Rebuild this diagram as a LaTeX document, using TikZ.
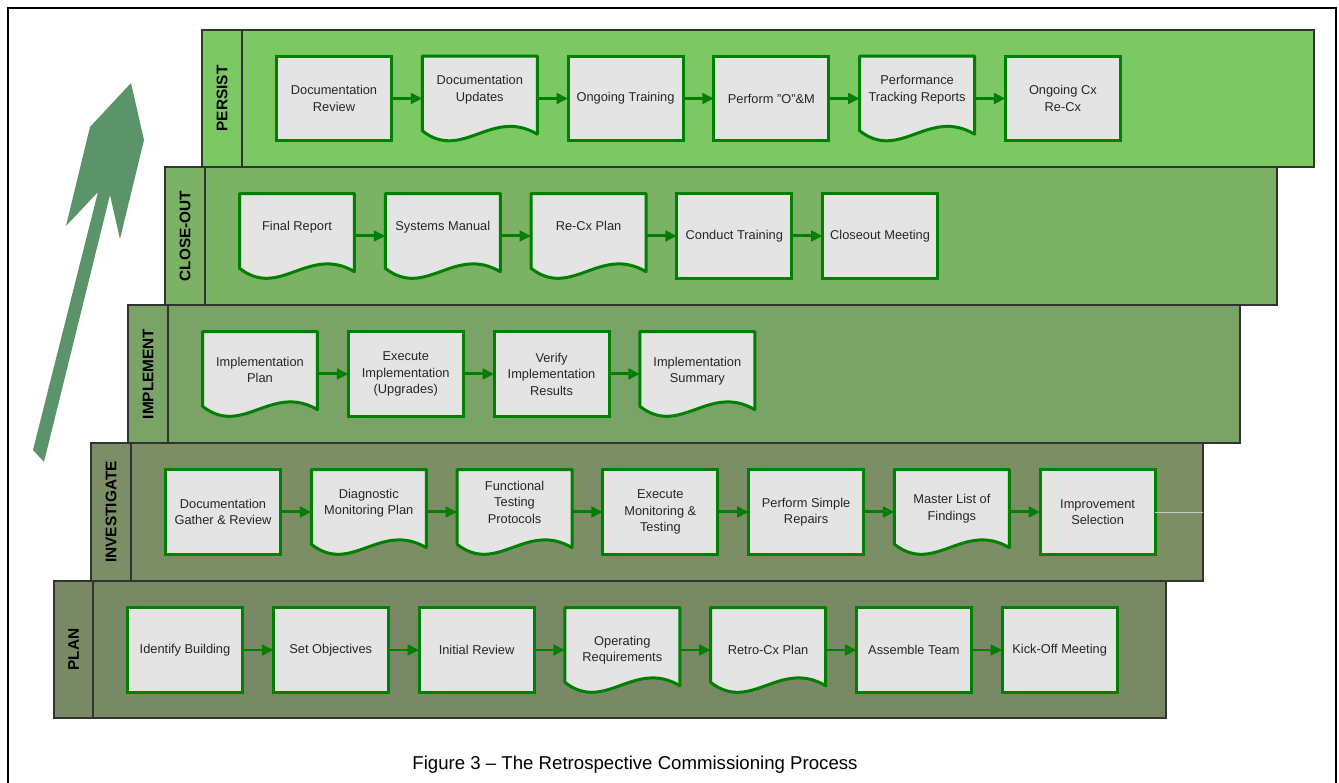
\documentclass[tikz,border=0pt]{standalone}
\usepackage{fontspec}
\setmainfont{Liberation Sans}
\usetikzlibrary{positioning,arrows.meta}

\definecolor{persistfill}{HTML}{7BC865}
\definecolor{closefill}{HTML}{7BB265}
\definecolor{implfill}{HTML}{7AA467}
\definecolor{investfill}{HTML}{7B8E66}
\definecolor{planfill}{HTML}{7A8965}
\definecolor{taskgreen}{HTML}{008000}
\definecolor{taskgray}{HTML}{E4E4E4}
\definecolor{bigarrow}{HTML}{5C946A}

\pgfdeclarelayer{background}
\pgfdeclarelayer{docs}
\pgfsetlayers{background,docs,main}

\newcommand{\docshape}[1]{%
  \draw[taskgreen,fill=taskgray,line width=0.06cm,line join=round] (#1.north west) -- (#1.north east)
    -- ([yshift=0.136cm]#1.south east)
    .. controls ([xshift=-0.92cm,yshift=0.68cm]#1.south east) and ([xshift=0.805cm,yshift=-0.425cm]#1.south west)
    .. ([yshift=0.204cm]#1.south west) -- cycle;}

\begin{document}
\begin{tikzpicture}[x=0.02cm,y=-0.02cm,node distance=0.616cm,
    stage/.style={draw=black!80,line width=0.6pt},
    stagename/.style={rotate=90,font=\bfseries\fontsize{8.75}{10}\selectfont},
    task/.style={draw=taskgreen,fill=taskgray,line width=0.06cm,outer sep=0pt,inner sep=1pt,
      minimum width=2.3cm,minimum height=1.7cm,align=center,text=black!85,
      font=\fontsize{7.3}{9.4}\selectfont},
    doc/.style={task,draw=none,fill=none},
    raised/.style={text depth=#1},
    raised/.default=11.5pt,
    flow/.style={taskgreen,line width=0.06cm,-{Triangle[length=6.5pt,width=6pt]}}]
  \useasboundingbox (0,0) rectangle (1339,783);
  \draw[line width=0.04cm] (8,8) rectangle (1336,800);

  \begin{pgfonlayer}{background}
    \draw[stage,fill=planfill] (54,581) rectangle (1166,718);
    \draw[stage] (93,581) -- (93,718);
    \draw[stage,fill=investfill] (91,443) rectangle (1203,581);
    \draw[stage] (131,443) -- (131,581);
    \draw[stage,fill=implfill] (128,305) rectangle (1240,443);
    \draw[stage] (168,305) -- (168,443);
    \draw[stage,fill=closefill] (165,167) rectangle (1277,305);
    \draw[stage] (205,167) -- (205,305);
    \draw[stage,fill=persistfill] (202,30) rectangle (1314,167);
    \draw[stage] (242,30) -- (242,167);
  \end{pgfonlayer}

  \fill[bigarrow] (131,83) -- (144,140) -- (120,239) -- (110,195) -- (44,462) -- (33,450)
    -- (98,192) -- (66,226) -- (90,127) -- cycle;

  \node[stagename] (plan) at (73.5,649.5) {PLAN};
  \node[stagename] (investigate) at (111,512) {INVESTIGATE};
  \node[stagename] (implement) at (148,374) {IMPLEMENT};
  \node[stagename] (closeout) at (185,236) {CLOSE-OUT};
  \node[stagename] (persist) at (222,98.5) {PERSIST};

  % plan
  \node[task] (ident) at (185,650) {Identify Building};
  \node[task,right=of ident] (objectives) {Set Objectives};
  \node[task,right=of objectives] (initrev) {Initial Review};
  \node[doc,right=of initrev] (opreq) {Operating\\Requirements};
  \node[doc,right=of opreq] (retroplan) {Retro-Cx Plan};
  \node[task,right=of retroplan] (team) {Assemble Team};
  \node[task,right=of team] (kickoff) {Kick-Off Meeting};

  % investigate
  \node[task] (gather) at (223,512) {Documentation\\Gather \& Review};
  \node[doc,raised,right=of gather] (diagplan) {Diagnostic\\Monitoring Plan};
  \node[doc,raised=11pt,right=of diagplan] (functest) {Functional\\Testing\\Protocols};
  \node[task,right=of functest] (execmon) {Execute\\Monitoring \&\\Testing};
  \node[task,right=of execmon] (repairs) {Perform Simple\\Repairs};
  \node[doc,raised=5.5pt,right=of repairs] (findings) {Master List of\\Findings};
  \node[task,right=of findings] (improve) {Improvement\\Selection};

  % implement
  \node[doc,raised=4.5pt] (implplan) at (260,374) {Implementation\\Plan};
  \node[task,right=of implplan] (execimpl) {Execute\\Implementation\\(Upgrades)};
  \node[task,right=of execimpl] (verify) {Verify\\Implementation\\Results};
  \node[doc,raised=4.5pt,right=of verify] (implsum) {Implementation\\Summary};

  % close-out
  \node[doc,raised] (finalrep) at (297,236) {Final Report};
  \node[doc,raised,right=of finalrep] (sysman) {Systems Manual};
  \node[doc,raised,right=of sysman] (recxplan) {Re-Cx Plan};
  \node[task,right=of recxplan] (training) {Conduct Training};
  \node[task,right=of training] (closemeet) {Closeout Meeting};

  % persist
  \node[task] (docrev) at (334,98.5) {Documentation\\Review};
  \node[doc,raised,right=of docrev] (docupd) {Documentation\\Updates};
  \node[task,right=of docupd] (ongtrain) {Ongoing Training};
  \node[task,right=of ongtrain] (perfom) {Perform "O"\&M};
  \node[doc,raised,right=of perfom] (perfrep) {Performance\\Tracking Reports};
  \node[task,right=of perfrep] (ongcx) {Ongoing Cx\\Re-Cx};

  \begin{pgfonlayer}{docs}
    \docshape{opreq}
    \docshape{retroplan}
    \docshape{diagplan}
    \docshape{functest}
    \docshape{findings}
    \docshape{implplan}
    \docshape{implsum}
    \docshape{finalrep}
    \docshape{sysman}
    \docshape{recxplan}
    \docshape{docupd}
    \docshape{perfrep}
  \end{pgfonlayer}

  \draw[flow] (ident) -- (objectives);
  \draw[flow] (objectives) -- (initrev);
  \draw[flow] (initrev) -- (opreq);
  \draw[flow] (opreq) -- (retroplan);
  \draw[flow] (retroplan) -- (team);
  \draw[flow] (team) -- (kickoff);

  \draw[flow] (gather) -- (diagplan);
  \draw[flow] (diagplan) -- (functest);
  \draw[flow] (functest) -- (execmon);
  \draw[flow] (execmon) -- (repairs);
  \draw[flow] (repairs) -- (findings);
  \draw[flow] (findings) -- (improve);
  \draw[white!55!investfill,line width=0.4pt] (improve.east) -- (1203,512);

  \draw[flow] (implplan) -- (execimpl);
  \draw[flow] (execimpl) -- (verify);
  \draw[flow] (verify) -- (implsum);

  \draw[flow] (finalrep) -- (sysman);
  \draw[flow] (sysman) -- (recxplan);
  \draw[flow] (recxplan) -- (training);
  \draw[flow] (training) -- (closemeet);

  \draw[flow] (docrev) -- (docupd);
  \draw[flow] (docupd) -- (ongtrain);
  \draw[flow] (ongtrain) -- (perfom);
  \draw[flow] (perfom) -- (perfrep);
  \draw[flow] (perfrep) -- (ongcx);

  \node[font=\fontsize{10.6}{12}\selectfont] (caption) at (635,765) {Figure 3 – The Retrospective Commissioning Process};
\end{tikzpicture}
\end{document}
